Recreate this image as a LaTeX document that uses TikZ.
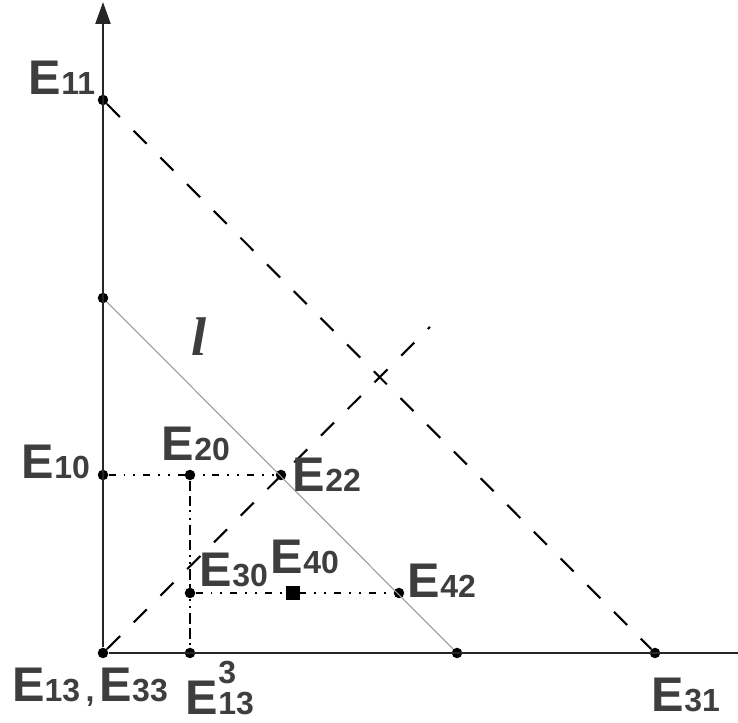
\documentclass[tikz,border=0pt]{standalone}
\usepackage{fontspec}
\setsansfont{Liberation Sans}
\newfontfamily\lfont{Liberation Serif}
\usepackage{tikz}
\usetikzlibrary{arrows.meta, positioning}

\definecolor{etiquette}{HTML}{3E3E3E}
\newcommand{\idx}[1]{{\fontsize{18.2}{20}\selectfont #1}}

\begin{document}
\begin{tikzpicture}[
  x=0.02cm, y=0.02cm,
  point/.style={
    circle, fill=black, inner sep=0pt, minimum size=0.21cm
  },
  carre/.style={
    rectangle, fill=black, inner sep=0pt, minimum size=0.29cm
  },
  nom/.style={
    text=etiquette, inner sep=0pt,
    font=\sffamily\bfseries\fontsize{27.7}{30}\selectfont
  },
  axe/.style={line width=1.3pt, draw=black!85},
  tirets/.style={line width=1.2pt, dash pattern=on 10.5pt off 11pt},
  pointille/.style={line width=1.2pt,
    dash pattern=on 4pt off 4.5pt on 1.1pt off 4.5pt on 1.1pt off 4.5pt},
  pointillev/.style={line width=1.2pt,
    dash pattern=on 6pt off 2.5pt on 6pt off 2.5pt on 1.1pt off 3pt on 1.1pt off 3pt}
]
\useasboundingbox (-103,-70) rectangle (635,653);

% ----- Points -----
\node[point] (o) at (0,0) {};
\node[point] (e11) at (0,553) {};
\node[point] (ltop) at (0,355) {};
\node[point] (e10) at (0,178) {};
\node[point] (e20) at (87,178) {};
\node[point] (e22) at (178,178) {};
\node[point] (e30) at (87,60) {};
\node[carre] (e40) at (190,60) {};
\node[point] (e42) at (296,60) {};
\node[point] (e133) at (87,0) {};
\node[point] (lbas) at (354,0) {};
\node[point] (e31) at (552,0) {};

\coordinate (ytop) at (0,651);
\coordinate (xfin) at (635,0);
\coordinate (dfin) at (327,326);

% ----- Axes -----
\draw[axe, -{Triangle[length=0.44cm, width=0.3cm]}] (o) -- (ytop);
\draw[axe] (o) -- (xfin);

% ----- Droites -----
\draw[tirets] (e11) -- (e31);
\draw[tirets] (o) -- (dfin);
\draw[black!40, line width=0.6pt] (ltop) -- (lbas);

\draw[pointille] (e10) -- (e22);
\draw[pointille] (e30) -- (e42);
\draw[pointillev] (e20) -- (e133);

% ----- Etiquettes -----
\node[nom] (n11) at (-41,575) {E\idx{11}};
\node[nom] (n10) at (-47,191) {E\idx{10}};
\node[nom] (n20) at (93,209) {E\idx{20}};
\node[nom] (n22) at (224,178) {E\idx{22}};
\node[nom] (n30) at (131,83) {E\idx{30}};
\node[nom] (n40) at (202,96) {E\idx{40}};
\node[nom] (n42) at (339,72) {E\idx{42}};
\node[nom] (n31) at (583,-42) {E\idx{31}};
\node[nom] (n13) at (-13,-34) {E\idx{13\,,\,}E\idx{33}};
\node[nom] (n133) at (117,-35)
  {E\idx{\rlap{\raisebox{18pt}{3}}13}};
\node[text=etiquette, inner sep=0pt,
  font=\lfont\bfseries\itshape\fontsize{31}{33}\selectfont] (nl) at (96,316) {l};

\end{tikzpicture}
\end{document}
